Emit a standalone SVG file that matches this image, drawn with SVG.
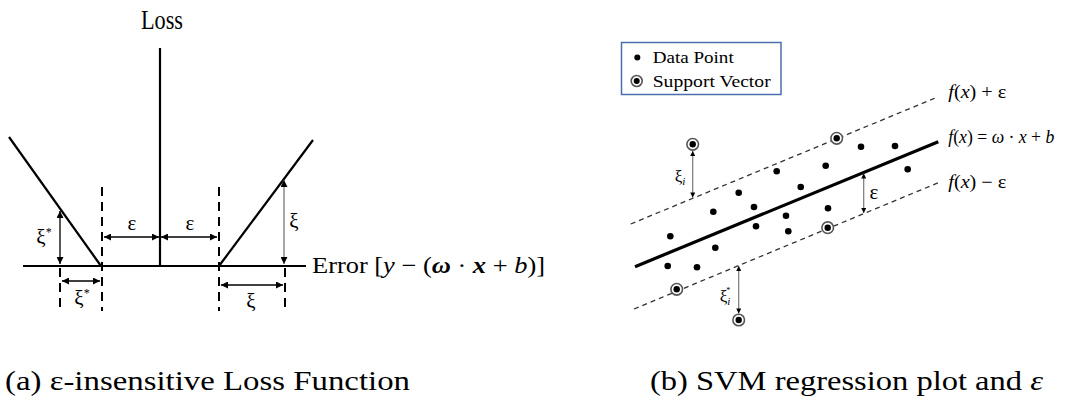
<svg xmlns="http://www.w3.org/2000/svg" width="1065" height="403" viewBox="0 0 1065 403">
<defs>
<style>
.serif{font-family:"Liberation Serif","Times New Roman",serif;fill:#000}
.ax{stroke:#000;stroke-width:2.2;fill:none}
.dash{stroke:#000;stroke-width:2;stroke-dasharray:9,6;fill:none}
.arr{stroke:#000;stroke-width:1.3;fill:none;marker-start:url(#ah);marker-end:url(#ah)}
.arrg{stroke:#777;stroke-width:1.3;fill:none;marker-start:url(#ah);marker-end:url(#ah)}
.sarr{stroke:#777;stroke-width:1.2;fill:none;marker-start:url(#sh);marker-end:url(#sh)}
.band{stroke:#333;stroke-width:1.3;stroke-dasharray:5,4;fill:none}
.dot{fill:#000}
.svo{fill:#fff;stroke:#555;stroke-width:1.6}
</style>
<marker id="ah" viewBox="0 0 10 10" refX="10" refY="5" markerWidth="9" markerHeight="7" markerUnits="userSpaceOnUse" orient="auto-start-reverse"><path d="M0,0 L10,5 L0,10 z" fill="#000"/></marker>
<marker id="sh" viewBox="0 0 10 10" refX="10" refY="5" markerWidth="6" markerHeight="5" markerUnits="userSpaceOnUse" orient="auto-start-reverse"><path d="M0,0 L10,5 L0,10 z" fill="#000"/></marker>
</defs>
<rect width="1065" height="403" fill="#fff"/>

<!-- Panel (a) -->
<g id="panel-a">
<g id="loss-axes">
<line class="ax" x1="160" y1="48" x2="160" y2="266"/>
<line class="ax" x1="23" y1="266" x2="306" y2="266"/>
<line class="ax" x1="9" y1="137" x2="101" y2="266"/>
<line class="ax" x1="219" y1="266" x2="313" y2="140"/>
</g>
<g id="guides">
<line class="dash" x1="102" y1="187" x2="102" y2="311"/>
<line class="dash" x1="219" y1="187" x2="219" y2="311"/>
<line class="dash" x1="60" y1="268" x2="60" y2="311"/>
<line class="dash" x1="285" y1="268" x2="285" y2="311"/>
</g>
<g id="connectors-a">
<line class="arr" x1="104" y1="237" x2="159" y2="237"/>
<line class="arr" x1="161" y1="237" x2="217" y2="237"/>
<line class="arr" x1="60" y1="211" x2="60" y2="264"/>
<line class="arr" x1="62" y1="281" x2="100" y2="281"/>
<line class="arrg" x1="284" y1="180" x2="284" y2="264"/>
<line class="arr" x1="221" y1="285" x2="283" y2="285"/>
</g>
<g id="labels-a" class="serif">
<text x="162" y="29" font-size="27" text-anchor="middle" textLength="42" lengthAdjust="spacingAndGlyphs">Loss</text>
<text x="132" y="230" font-size="21" text-anchor="middle">ε</text>
<text x="190" y="230" font-size="21" text-anchor="middle">ε</text>
<text x="44" y="244" font-size="21" text-anchor="middle">ξ<tspan font-size="12" dy="-8">*</tspan></text>
<text x="82" y="305" font-size="21" text-anchor="middle">ξ<tspan font-size="12" dy="-8">*</tspan></text>
<text x="294" y="228" font-size="21" text-anchor="middle">ξ</text>
<text x="251" y="308" font-size="21" text-anchor="middle">ξ</text>
<text x="312" y="273" font-size="23" textLength="233" lengthAdjust="spacingAndGlyphs">Error [<tspan font-style="italic">y</tspan> − (<tspan font-style="italic" font-weight="bold">ω</tspan> · <tspan font-style="italic" font-weight="bold">x</tspan> + <tspan font-style="italic">b</tspan>)]</text>
</g>
</g>

<!-- Panel (b) -->
<g id="panel-b">
<g id="legend">
<rect x="621.5" y="42.5" width="159.5" height="52" fill="#fff" stroke="#4a6fae" stroke-width="1.5"/>
<circle class="dot" cx="637.3" cy="57.5" r="3"/>
<circle class="svo" cx="636.7" cy="81" r="5.5"/>
<circle class="dot" cx="636.7" cy="81" r="3"/>
<text class="serif" x="652.7" y="63.3" font-size="17.5" textLength="81" lengthAdjust="spacingAndGlyphs">Data Point</text>
<text class="serif" x="652.7" y="86.7" font-size="17.5" textLength="118" lengthAdjust="spacingAndGlyphs">Support Vector</text>
</g>
<g id="lines">
<line class="band" x1="630.7" y1="224" x2="936" y2="97.7"/>
<line stroke="#000" stroke-width="3.2" x1="635" y1="266.7" x2="938.3" y2="141.7"/>
<line class="band" x1="634" y1="309" x2="938.3" y2="182.7"/>
</g>
<g id="data-points">
<circle class="dot" cx="861" cy="146.7" r="3.3"/>
<circle class="dot" cx="895" cy="146" r="3.3"/>
<circle class="dot" cx="825.7" cy="165.7" r="3.3"/>
<circle class="dot" cx="776.7" cy="171.3" r="3.3"/>
<circle class="dot" cx="907.7" cy="169.3" r="3.3"/>
<circle class="dot" cx="800.7" cy="187" r="3.3"/>
<circle class="dot" cx="738.7" cy="192.7" r="3.3"/>
<circle class="dot" cx="713.3" cy="211.7" r="3.3"/>
<circle class="dot" cx="754" cy="207" r="3.3"/>
<circle class="dot" cx="786" cy="215.7" r="3.3"/>
<circle class="dot" cx="828" cy="208.3" r="3.3"/>
<circle class="dot" cx="756" cy="226.3" r="3.3"/>
<circle class="dot" cx="788.3" cy="231.3" r="3.3"/>
<circle class="dot" cx="670.3" cy="236.3" r="3.3"/>
<circle class="dot" cx="715.3" cy="247.7" r="3.3"/>
<circle class="dot" cx="667.7" cy="266" r="3.3"/>
<circle class="dot" cx="697" cy="267.3" r="3.3"/>
</g>
<g id="support-vectors">
<g id="sv1"><circle class="svo" cx="692.7" cy="144.3" r="5.8"/><circle class="dot" cx="692.7" cy="144.3" r="3.2"/></g>
<g id="sv2"><circle class="svo" cx="836.7" cy="138.3" r="5.8"/><circle class="dot" cx="836.7" cy="138.3" r="3.2"/></g>
<g id="sv3"><circle class="svo" cx="827.7" cy="227.7" r="5.8"/><circle class="dot" cx="827.7" cy="227.7" r="3.2"/></g>
<g id="sv4"><circle class="svo" cx="676.7" cy="289.3" r="5.8"/><circle class="dot" cx="676.7" cy="289.3" r="3.2"/></g>
<g id="sv5"><circle class="svo" cx="738.7" cy="320" r="5.8"/><circle class="dot" cx="738.7" cy="320" r="3.2"/></g>
</g>
<g id="connectors-b">
<line class="sarr" x1="692.7" y1="151" x2="692.7" y2="197.5"/>
<line class="sarr" x1="863.7" y1="173.5" x2="863.7" y2="213"/>
<line class="sarr" x1="738.7" y1="266" x2="738.7" y2="313.5"/>
</g>
<g id="labels-b" class="serif">
<text x="680" y="182" font-size="17" text-anchor="middle">ξ<tspan font-size="11" font-style="italic" dy="3">i</tspan></text>
<text x="725" y="302" font-size="17" text-anchor="middle">ξ<tspan font-size="11" font-style="italic" dy="3">i</tspan><tspan font-size="8" dx="-4" dy="-12">*</tspan></text>
<text x="874" y="199" font-size="21" text-anchor="middle">ε</text>
<text x="948.3" y="98" font-size="18" textLength="58" lengthAdjust="spacingAndGlyphs"><tspan font-style="italic">f</tspan>(<tspan font-style="italic">x</tspan>) + ε</text>
<text x="948.3" y="143" font-size="18" textLength="106" lengthAdjust="spacingAndGlyphs"><tspan font-style="italic">f</tspan>(<tspan font-style="italic">x</tspan>) = <tspan font-style="italic">ω</tspan> · <tspan font-style="italic">x</tspan> + <tspan font-style="italic">b</tspan></text>
<text x="948.3" y="188" font-size="18" textLength="58" lengthAdjust="spacingAndGlyphs"><tspan font-style="italic">f</tspan>(<tspan font-style="italic">x</tspan>) − ε</text>
</g>
</g>

<g id="captions" class="serif">
<text x="5" y="390" font-size="27" textLength="405" lengthAdjust="spacingAndGlyphs">(a) ε-insensitive Loss Function</text>
<text x="650" y="390" font-size="27" textLength="393" lengthAdjust="spacingAndGlyphs">(b) SVM regression plot and <tspan font-style="italic">ε</tspan></text>
</g>
</svg>
